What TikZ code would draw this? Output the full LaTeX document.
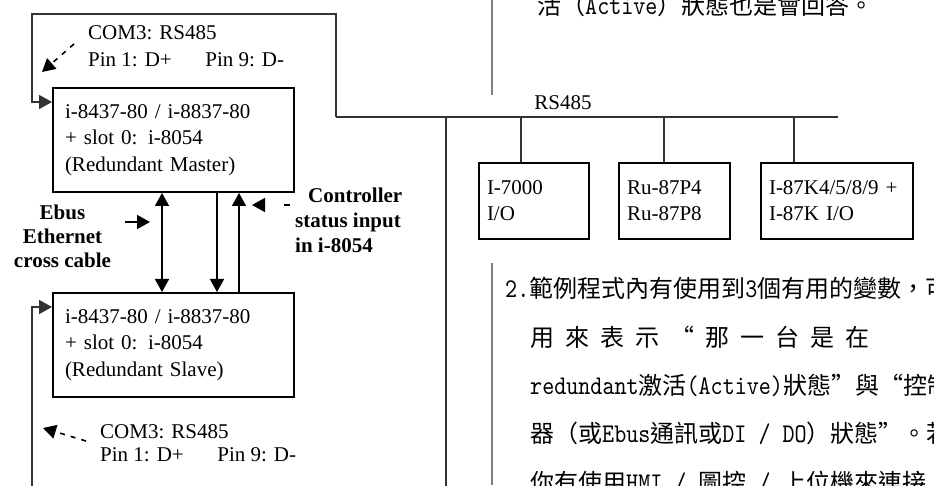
\documentclass[tikz,border=0pt]{standalone}
\usepackage{fontspec}
\setmainfont{Liberation Serif}
\newfontfamily\cjkfont{Noto Sans CJK TC}
\newfontfamily\latfont{lmmono10-regular.otf}[FakeStretch=0.85]
\usetikzlibrary{arrows.meta,positioning}
\newcommand{\lat}[1]{{\latfont\fontsize{27}{24}\selectfont #1}}
\tikzset{
	>={Triangle[length=13pt,width=14pt]},
	unit/.style={draw, line width=2pt, minimum width=241pt, minimum height=104pt, text width=217pt, align=left, inner sep=0pt, font=\fontsize{21}{26.5}\selectfont},
	iobox/.style={draw, line width=2pt, minimum height=76pt, inner xsep=8pt, inner ysep=0pt, align=left, anchor=north west, font=\fontsize{21}{26}\selectfont},
	wire/.style={draw=black!80, line width=1.6pt},
	link/.style={line width=1.6pt},
	hint/.style={line width=1.6pt, dash pattern=on 5pt off 6pt, ->},
	lbl/.style={inner sep=0pt, align=left, font=\fontsize{21}{27}\selectfont},
	note/.style={inner sep=0pt, font=\bfseries\fontsize{21}{24}\selectfont},
	para/.style={anchor=base west, inner sep=0pt, font=\cjkfont\fontsize{24}{24}\selectfont},
	bar/.style={draw=gray, line width=1.5pt}
}
\begin{document}
\begin{tikzpicture}[x=1pt, y=1pt]
	\useasboundingbox (0,0) rectangle (934,485);
	\clip (0,0) rectangle (934,485);
	\node[unit] (master) at (173.5,345) {i-8437-80 / i-8837-80\\+ slot 0: i-8054\\(Redundant Master)};
	\node[unit] (slave) at (173.5,140) {i-8437-80 / i-8837-80\\+ slot 0: i-8054\\(Redundant Slave)};
	\node[iobox, text width=94pt] (io) at (478,323) {I-7000\\I/O};
	\node[iobox, text width=95pt] (ru) at (618,323) {Ru-87P4\\Ru-87P8};
	\node[iobox, text width=136pt] (k87) at (760,323) {I-87K4/5/8/9 +\\I-87K I/O};
	\node[lbl] (rs) at (563,382) {RS485};
	\node[lbl, anchor=west] (comm) at (88,438.5) {COM3: RS485\\Pin 1: D+\hspace{1.6em}Pin 9: D-};
	\node[lbl, anchor=west, font=\fontsize{21}{23}\selectfont] (coms) at (100,41.5) {COM3: RS485\\Pin 1: D+\hspace{1.6em}Pin 9: D-};
	\node[note, align=center] (ebus) at (62.5,248.5) {Ebus\\Ethernet\\cross cable};
	\node[note, align=left, anchor=west, font=\bfseries\fontsize{21}{25}\selectfont] (ctrl) at (295,265) {\hspace*{13pt}Controller\\status input\\in i-8054};

	\coordinate (tl) at (32,471);
	\coordinate (tr) at (336,471);
	\coordinate (busw) at (336,368);
	\coordinate (buse) at (838,368);
	\coordinate (tap) at (446,368);
	\coordinate (bl) at (32,-10);
	\coordinate (br) at (446,-10);
	\coordinate (d1) at (521,368);
	\coordinate (d2) at (664,368);
	\coordinate (d3) at (794,368);
	\coordinate (ebustail) at (125,263);
	\coordinate (ebustip) at (150,263);
	\coordinate (ctrltip) at (252,280);
	\coordinate (mtip) at (42,413);
	\coordinate (stip) at (43,57);

	\draw[wire, ->] (busw) -- (tr) -- (tl) |- ([yshift=-15pt]master.north west);
	\draw[wire, ->] (bl) |- ([yshift=-15pt]slave.north west);
	\draw[wire] (busw) -- (buse);
	\draw[wire] (tap) -- (br);
	\draw[wire] (d1) -- (d1 |- io.north);
	\draw[wire] (d2) -- (d2 |- ru.north);
	\draw[wire] (d3) -- (d3 |- k87.north);

	\draw[link, <->] ([xshift=-11.5pt]master.south) -- ([xshift=-11.5pt]slave.north);
	\draw[link, ->] ([xshift=43.5pt]master.south) -- ([xshift=43.5pt]slave.north);
	\draw[link, ->] ([xshift=65.5pt]slave.north) -- ([xshift=65.5pt]master.south);

	\draw[link, ->] (ebustail) -- (ebustip);
	\draw[hint, dash pattern=on 6pt off 40pt] ([xshift=-5pt]ctrltip -| ctrl.west) -- (ctrltip);
	\draw[hint] ([shift={(-14pt,2.5pt)}]comm.west) -- (mtip);
	\draw[hint] ([shift={(-14pt,2.5pt)}]coms.west) -- (stip);

	\draw[bar] (492,485) -- (492,390);
	\draw[bar] (492,222) -- (492,0);
	\node[para] (p0) at (537,470) {活（\lat{Active}）狀態也是會回答。};
	\node[para] (p1) at (505,187) {\lat{2.}範例程式內有使用到\lat{3}個有用的變數，可};
	\foreach \c [count=\i from 0] in {用,來,表,示,“,那,一,台,是,在}
		\node[para] (w\i) at ({530+35*\i},139) {\c};
	\node[para] (p3) at (530,91) {\lat{redundant}激活\lat{(Active)}狀態”與“控制};
	\node[para] (p4) at (530,43) {器（或\lat{Ebus}通訊或\lat{DI / DO}）狀態”。若};
	\node[para] (p5) at (530,-6) {你有使用\lat{HMI / }圖控\lat{ / }上位機來連接};
\end{tikzpicture}
\end{document}
